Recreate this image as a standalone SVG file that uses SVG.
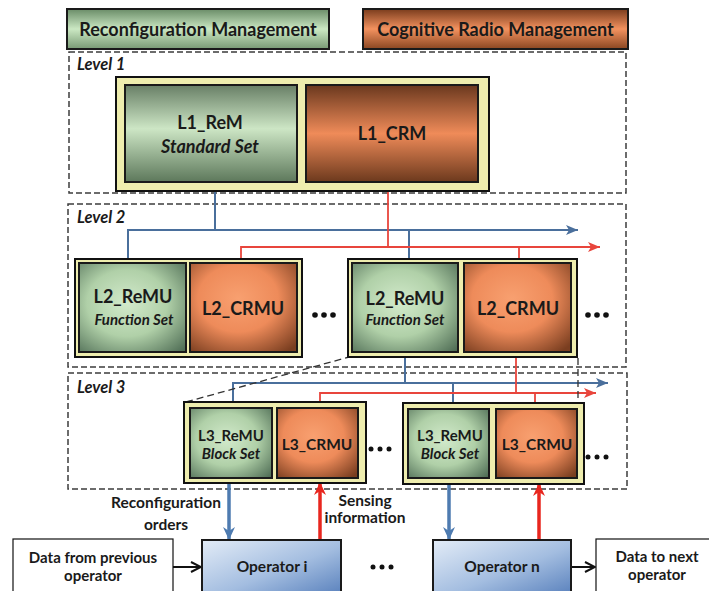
<svg xmlns="http://www.w3.org/2000/svg" width="709" height="591" viewBox="0 0 709 591">
<defs>
<linearGradient id="gHdr" x1="0" y1="0" x2="0" y2="1"><stop offset="0" stop-color="#6a8c68"/><stop offset="0.5" stop-color="#cbe8c3"/><stop offset="1" stop-color="#789a74"/></linearGradient>
<linearGradient id="oHdr" x1="0" y1="0" x2="0" y2="1"><stop offset="0" stop-color="#7a3c1d"/><stop offset="0.5" stop-color="#f3925f"/><stop offset="1" stop-color="#8a4621"/></linearGradient>
<linearGradient id="gL1" x1="0" y1="0" x2="0" y2="1"><stop offset="0" stop-color="#687f66"/><stop offset="0.45" stop-color="#cde6c5"/><stop offset="1" stop-color="#5d785b"/></linearGradient>
<linearGradient id="oL1" x1="0" y1="0" x2="0" y2="1"><stop offset="0" stop-color="#6a381e"/><stop offset="0.5" stop-color="#ef8b59"/><stop offset="1" stop-color="#6c391d"/></linearGradient>
<radialGradient id="gR" cx="0.45" cy="0.45" r="0.75"><stop offset="0" stop-color="#d2eacb"/><stop offset="0.5" stop-color="#b0d0a8"/><stop offset="1" stop-color="#4f6d55"/></radialGradient>
<radialGradient id="oR" cx="0.45" cy="0.4" r="0.75"><stop offset="0" stop-color="#f8a070"/><stop offset="0.5" stop-color="#ee8b5a"/><stop offset="1" stop-color="#7a3e20"/></radialGradient>
<linearGradient id="opG" x1="0" y1="0" x2="1" y2="1"><stop offset="0" stop-color="#e3ecf7"/><stop offset="0.55" stop-color="#a3bde0"/><stop offset="1" stop-color="#5880bc"/></linearGradient>
<marker id="mb" markerUnits="userSpaceOnUse" markerWidth="12" markerHeight="10" refX="12" refY="5" orient="auto"><path d="M0,0 L12,5 L0,10 L3,5 Z" fill="#4a6f9c"/></marker>
<marker id="mr" markerUnits="userSpaceOnUse" markerWidth="12" markerHeight="10" refX="12" refY="5" orient="auto"><path d="M0,0 L12,5 L0,10 L3,5 Z" fill="#e8453c"/></marker>
<marker id="mb2" markerUnits="userSpaceOnUse" markerWidth="14" markerHeight="14" refX="13" refY="7" orient="auto"><path d="M0,1 L13,7 L0,13 L4,7 Z" fill="#4e7bb0"/></marker>
<marker id="mr2" markerUnits="userSpaceOnUse" markerWidth="14" markerHeight="14" refX="13" refY="7" orient="auto"><path d="M0,1 L13,7 L0,13 L4,7 Z" fill="#e8261e"/></marker>
<marker id="mk" markerUnits="userSpaceOnUse" markerWidth="12" markerHeight="12" refX="11" refY="6" orient="auto"><path d="M1,1 L11,6 L1,11" fill="none" stroke="#111" stroke-width="2"/></marker>
</defs>
<style>
.dash{fill:none;stroke:#3c3c3c;stroke-width:1.5;stroke-dasharray:6 3}
.yel{fill:#eeedae;stroke:#111;stroke-width:2}
.bx{stroke:#1a1a1a;stroke-width:2}
text{font-family:Lato,"Open Sans",sans-serif;font-weight:bold;fill:#1a1a1a;text-anchor:middle}
.it{font-style:italic}
.lvl{text-anchor:start;font-style:italic;font-size:16.5px}
.bl{fill:none;stroke:#4a6f9c;stroke-width:2}
.rd{fill:none;stroke:#e8453c;stroke-width:1.8}
.bl2{fill:none;stroke:#4e7bb0;stroke-width:3.5}
.rd2{fill:none;stroke:#e8261e;stroke-width:3.5}
.pj{fill:none;stroke:#333;stroke-width:1.3;stroke-dasharray:7 4}
.dot{fill:#111}
.wbox{fill:#fff;stroke:#111;stroke-width:1.2}
</style>
<rect width="709" height="591" fill="#fff"/>

<g id="legend-reconfiguration">
<rect x="67" y="9" width="262" height="40" fill="url(#gHdr)" class="bx"/>
<text x="198" y="36" font-size="18">Reconfiguration Management</text>
</g>
<g id="legend-cognitive">
<rect x="363" y="9" width="265" height="40" fill="url(#oHdr)" class="bx"/>
<text x="495.5" y="36" font-size="18">Cognitive Radio Management</text>
</g>

<g id="level1">
<rect x="69" y="52" width="557" height="141" class="dash"/>
<text x="77" y="70" class="lvl">Level 1</text>
</g>
<g id="level2">
<rect x="68" y="204" width="558" height="163" class="dash"/>
<text x="77" y="223" class="lvl">Level 2</text>
</g>
<g id="level3">
<rect x="68" y="373" width="559" height="116" class="dash"/>
<text x="77" y="393" class="lvl">Level 3</text>
</g>

<g id="connectors">
<path class="bl" d="M215,182 V230"/>
<path class="bl" d="M128,263 V230 H578" marker-end="url(#mb)"/>
<path class="bl" d="M409,230 V260"/>
<path class="rd" d="M388,182 V247"/>
<path class="rd" d="M241,263 V247 H600" marker-end="url(#mr)"/>
<path class="rd" d="M519,247 V263"/>
<path class="bl" d="M405,352 V383"/>
<path class="bl" d="M233,408 V383 H608" marker-end="url(#mb)"/>
<path class="bl" d="M453,383 V409"/>
<path class="rd" d="M516,352 V393"/>
<path class="rd" d="M320,408 V393 H596" marker-end="url(#mr)"/>
<path class="rd" d="M535,393 V409"/>
<path class="pj" d="M186,402 L349,357"/>
<path class="pj" d="M578,358 V403"/>
<path class="bl2" d="M229,482 V540" marker-end="url(#mb2)"/>
<path class="rd2" d="M320,540 V482" marker-end="url(#mr2)"/>
<path class="bl2" d="M449,483 V540" marker-end="url(#mb2)"/>
<path class="rd2" d="M539,540 V483" marker-end="url(#mr2)"/>
<path d="M173,567 H201" fill="none" stroke="#111" stroke-width="2" marker-end="url(#mk)"/>
<path d="M571,567 H595" fill="none" stroke="#111" stroke-width="2" marker-end="url(#mk)"/>
</g>

<g id="L1">
<rect x="116" y="77" width="373" height="114" class="yel"/>
<g id="L1_ReM">
<rect x="125" y="85" width="172" height="97" fill="url(#gL1)" class="bx"/>
<text x="210" y="129" font-size="18">L1_ReM</text>
<text x="210" y="153" font-size="18" class="it">Standard Set</text>
</g>
<g id="L1_CRM">
<rect x="306" y="85" width="172" height="97" fill="url(#oL1)" class="bx"/>
<text x="392" y="140" font-size="18">L1_CRM</text>
</g>
</g>

<g id="L2a">
<rect x="75" y="259" width="227" height="98" class="yel"/>
<rect x="79" y="263" width="107" height="89" fill="url(#gR)" class="bx"/>
<text x="133" y="303" font-size="18">L2_ReMU</text>
<text x="134" y="325" font-size="15" class="it">Function Set</text>
<rect x="190" y="263" width="107" height="89" fill="url(#oR)" class="bx"/>
<text x="243" y="315" font-size="18">L2_CRMU</text>
</g>
<g id="L2b">
<rect x="348" y="259" width="229" height="98" class="yel"/>
<rect x="352" y="263" width="106" height="89" fill="url(#gR)" class="bx"/>
<text x="405" y="305" font-size="18">L2_ReMU</text>
<text x="405" y="325" font-size="15" class="it">Function Set</text>
<rect x="464" y="263" width="107" height="89" fill="url(#oR)" class="bx"/>
<text x="518" y="315" font-size="18">L2_CRMU</text>
</g>

<g id="L3a">
<rect x="184" y="402" width="182" height="81" class="yel"/>
<rect x="190" y="408" width="82" height="70" fill="url(#gR)" class="bx"/>
<text x="231" y="441" font-size="15">L3_ReMU</text>
<text x="231" y="459" font-size="15" class="it">Block Set</text>
<rect x="277" y="408" width="81" height="70" fill="url(#oR)" class="bx"/>
<text x="317" y="450" font-size="15.5">L3_CRMU</text>
</g>
<g id="L3b">
<rect x="403" y="403" width="181" height="81" class="yel"/>
<rect x="408" y="409" width="81" height="69" fill="url(#gR)" class="bx"/>
<text x="450" y="441" font-size="15">L3_ReMU</text>
<text x="450" y="459" font-size="15" class="it">Block Set</text>
<rect x="496" y="409" width="81" height="69" fill="url(#oR)" class="bx"/>
<text x="537" y="450" font-size="15.5">L3_CRMU</text>
</g>

<g id="ellipses">
<circle class="dot" cx="315" cy="315" r="2.8"/><circle class="dot" cx="324" cy="315" r="2.8"/><circle class="dot" cx="333" cy="315" r="2.8"/>
<circle class="dot" cx="588" cy="315" r="2.8"/><circle class="dot" cx="597" cy="315" r="2.8"/><circle class="dot" cx="606" cy="315" r="2.8"/>
<circle class="dot" cx="371" cy="449" r="2.5"/><circle class="dot" cx="380" cy="449" r="2.5"/><circle class="dot" cx="389" cy="449" r="2.5"/>
<circle class="dot" cx="588" cy="457" r="2.5"/><circle class="dot" cx="597" cy="457" r="2.5"/><circle class="dot" cx="606" cy="457" r="2.5"/>
<circle class="dot" cx="373" cy="567" r="2.5"/><circle class="dot" cx="382" cy="567" r="2.5"/><circle class="dot" cx="391" cy="567" r="2.5"/>
</g>

<g id="labels">
<text x="166" y="508" font-size="15.5">Reconfiguration</text>
<text x="166" y="530" font-size="15.5">orders</text>
<text x="365" y="506" font-size="15.5">Sensing</text>
<text x="365" y="523" font-size="15.5">information</text>
</g>

<g id="data-prev">
<rect x="13" y="539" width="160" height="60" class="wbox"/>
<text x="93" y="563" font-size="15">Data from previous</text>
<text x="93" y="581" font-size="15">operator</text>
</g>
<g id="operator-i">
<rect x="202" y="540" width="139" height="56" fill="url(#opG)" class="bx"/>
<text x="272" y="572" font-size="15.5">Operator i</text>
</g>
<g id="operator-n">
<rect x="433" y="540" width="138" height="56" fill="url(#opG)" class="bx"/>
<text x="502" y="572" font-size="15.5">Operator n</text>
</g>
<g id="data-next">
<rect x="596" y="539" width="120" height="60" class="wbox"/>
<text x="657" y="562" font-size="15">Data to next</text>
<text x="657" y="580" font-size="15">operator</text>
</g>
</svg>
